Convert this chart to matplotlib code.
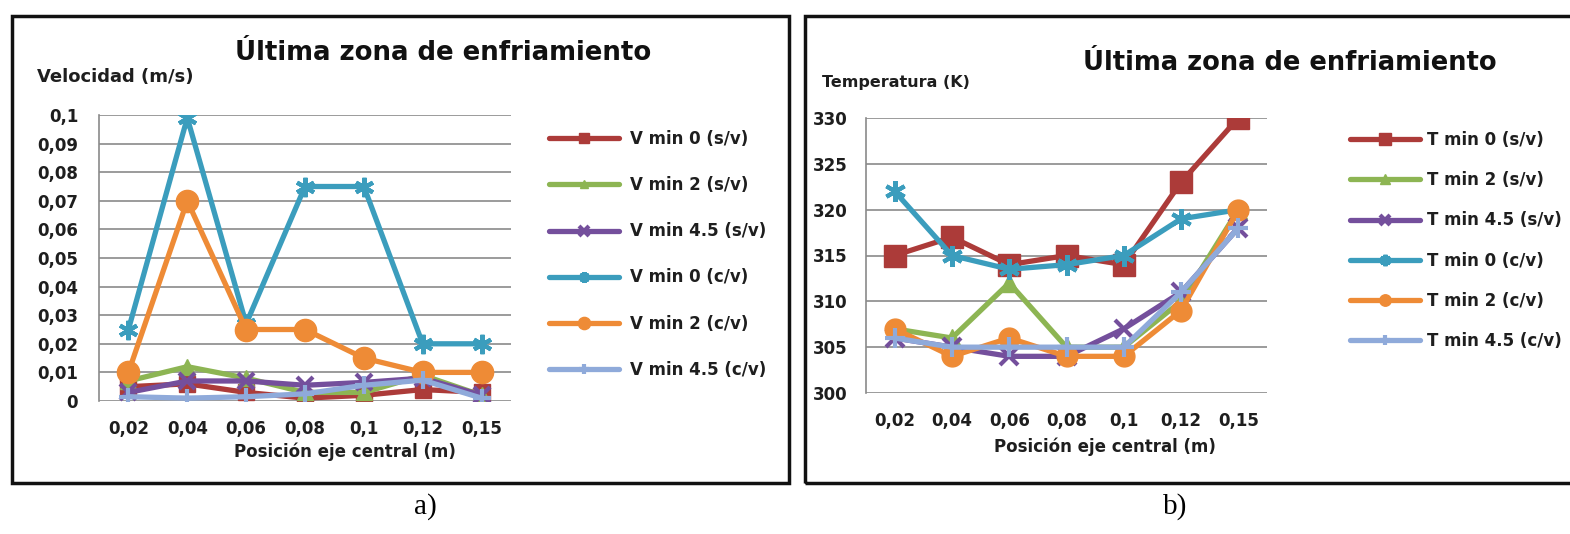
import matplotlib
matplotlib.use("Agg")
import matplotlib.pyplot as plt
from matplotlib.patches import Rectangle

# Category positions along the central axis (m)
positions = ["0,02", "0,04", "0,06", "0,08", "0,1", "0,12", "0,15"]

# Velocity (m/s), last cooling zone
v_min0_sv = [0.005, 0.006, 0.003, 0.001, 0.002, 0.004, 0.003]
v_min2_sv = [0.007, 0.012, 0.008, 0.003, 0.003, 0.009, 0.002]
v_min45_sv = [0.003, 0.007, 0.007, 0.0055, 0.0065, 0.008, 0.002]
v_min0_cv = [0.025, 0.099, 0.027, 0.075, 0.075, 0.020, 0.020]
v_min2_cv = [0.010, 0.070, 0.025, 0.025, 0.015, 0.010, 0.010]
v_min45_cv = [0.0015, 0.001, 0.0015, 0.0025, 0.0055, 0.0073, 0.001]

# Temperature (K), last cooling zone
t_min0_sv = [315, 317, 314, 315, 314, 323, 330]
t_min2_sv = [307, 306, 312, 305, 305, 310, 320]
t_min45_sv = [306, 305, 304, 304, 307, 311, 318]
t_min0_cv = [322, 315, 313.5, 314, 315, 319, 320]
t_min2_cv = [307, 304, 306, 304, 304, 309, 320]
t_min45_cv = [306, 305, 305, 305, 305, 311, 318]

v_labels = ["V min 0 (s/v)", "V min 2 (s/v)", "V min 4.5 (s/v)",
            "V min 0 (c/v)", "V min 2 (c/v)", "V min 4.5 (c/v)"]
t_labels = ["T min 0 (s/v)", "T min 2 (s/v)", "T min 4.5 (s/v)",
            "T min 0 (c/v)", "T min 2 (c/v)", "T min 4.5 (c/v)"]

v_ticks = [0, 0.01, 0.02, 0.03, 0.04, 0.05, 0.06, 0.07, 0.08, 0.09, 0.1]
v_tick_labels = ["0", "0,01", "0,02", "0,03", "0,04", "0,05", "0,06",
                 "0,07", "0,08", "0,09", "0,1"]
t_ticks = [300, 305, 310, 315, 320, 325, 330]
t_tick_labels = ["300", "305", "310", "315", "320", "325", "330"]

title = "Última zona de enfriamiento"
xlabel = "Posición eje central (m)"

colors = ["#AC3B39", "#8DB553", "#744F9C", "#3B9DBD", "#EE8B36", "#8FAADA"]
markers = ["s", "^", "x", (6, 2, 0), "o", "+"]

FONT = ["DejaVu Sans"]
plt.rcParams["font.family"] = FONT
plt.rcParams["font.weight"] = "bold"
TXT = "#1E1E1E"
FS = 12

W, H = 1570, 534
fig = plt.figure(figsize=(W / 100, H / 100), dpi=100)


def fx(px):
    return px / W


def fy(py):
    return 1 - py / H


# Panel frames
for x0, x1 in [(12, 789), (805, 1580)]:
    fig.patches.append(Rectangle((fx(x0), fy(483)), fx(x1 - x0), (483 - 16) / H,
                                 transform=fig.transFigure, fill=False,
                                 edgecolor="#111111", linewidth=2.5))


def draw_panel(ax, series, labels, ticks, tick_labels, ylim, msizes,
               ypad, leg_xy, leg_spacing, text_pad):
    xs = list(range(len(positions)))
    handles = []
    for vals, lab, c, m, ms in zip(series, labels, colors, markers, msizes):
        mew = 3 if m in ("x", "+") or isinstance(m, tuple) else 1
        h, = ax.plot(xs, vals, color=c, linewidth=3.8, marker=m, markersize=ms,
                     markeredgewidth=mew, markerfacecolor=c, markeredgecolor=c,
                     label=lab, solid_joinstyle="round", solid_capstyle="round")
        handles.append(h)
    ax.set_xlim(-0.5, len(positions) - 0.5)
    ax.set_ylim(*ylim)
    ax.set_xticks(xs)
    ax.set_xticklabels(positions, fontsize=FS, fontweight="bold", color=TXT)
    ax.set_yticks(ticks)
    ax.set_yticklabels(tick_labels, fontsize=FS, fontweight="bold", color=TXT)
    ax.tick_params(axis="both", length=0)
    ax.tick_params(axis="x", pad=14)
    ax.tick_params(axis="y", pad=ypad)
    ax.grid(axis="y", color="#8A8A8A", linewidth=1.2)
    ax.set_axisbelow(True)
    for s in ("top", "right", "bottom"):
        ax.spines[s].set_visible(False)
    ax.spines["left"].set_color("#8A8A8A")
    ax.spines["left"].set_linewidth(1.2)
    leg = ax.legend(handles=handles, loc="upper left",
                    bbox_to_anchor=(fx(leg_xy[0]), fy(leg_xy[1])),
                    bbox_transform=fig.transFigure, frameon=False,
                    prop={"family": FONT, "weight": "bold", "size": FS},
                    handlelength=4.2, handletextpad=text_pad, labelspacing=leg_spacing,
                    markerscale=0.55, borderpad=0, borderaxespad=0)
    for t in leg.get_texts():
        t.set_color(TXT)


ax1 = fig.add_axes([fx(99), fy(401), fx(511 - 99), (401 - 115) / H])
draw_panel(ax1, [v_min0_sv, v_min2_sv, v_min45_sv, v_min0_cv, v_min2_cv, v_min45_cv],
           v_labels, v_ticks, v_tick_labels, (0, 0.1), [12, 11, 12, 14, 16, 13],
           15, (549, 130), 1.69, 0.65)

ax2 = fig.add_axes([fx(866), fy(393), fx(1267 - 866), (393 - 118) / H])
draw_panel(ax2, [t_min0_sv, t_min2_sv, t_min45_sv, t_min0_cv, t_min2_cv, t_min45_cv],
           t_labels, t_ticks, t_tick_labels, (300, 330), [16, 13, 13, 15, 15, 14],
           13, (1350, 131), 1.33, 0.4)

# Titles, axis captions and panel letters
fig.text(fx(443), fy(53), title, ha="center", va="center", fontsize=18.7,
         fontweight="bold", color="#111111")
fig.text(fx(1290), fy(63), title, ha="center", va="center", fontsize=18.5,
         fontweight="bold", color="#111111")
fig.text(fx(37), fy(77), "Velocidad (m/s)", ha="left", va="center", fontsize=13,
         fontweight="bold", color=TXT)
fig.text(fx(822), fy(83), "Temperatura (K)", ha="left", va="center", fontsize=11.5,
         fontweight="bold", color=TXT)
fig.text(fx(345), fy(452), xlabel, ha="center", va="center", fontsize=FS,
         fontweight="bold", color=TXT)
fig.text(fx(1105), fy(447), xlabel, ha="center", va="center", fontsize=FS,
         fontweight="bold", color=TXT)
fig.text(fx(425), fy(507), "a)", ha="center", va="center", fontsize=21,
         family="Liberation Serif", fontweight="normal")
fig.text(fx(1175), fy(507), "b)", ha="center", va="center", fontsize=21,
         family="Liberation Serif", fontweight="normal")

fig.savefig("out.png", dpi=100)
